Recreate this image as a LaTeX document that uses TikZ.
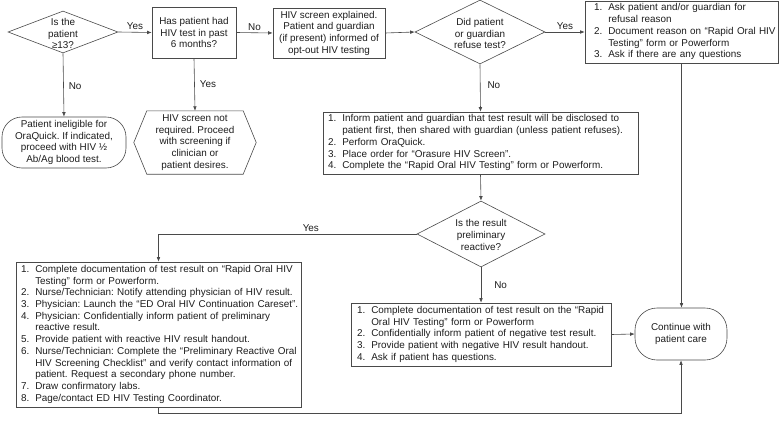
\documentclass[tikz,border=0pt]{standalone}
\usepackage{fontspec}
\setmainfont{Liberation Sans}
\usetikzlibrary{arrows.meta,shapes.geometric,calc}
\definecolor{linec}{HTML}{4A4A4A}
\definecolor{txtc}{HTML}{1E1E1E}
\newcommand\fs{\fontsize{9.9}{11.7}\selectfont\frenchspacing}
\newenvironment{steplist}{\begin{tabular}{@{}l@{\hspace{6pt}}l@{}}}{\end{tabular}}
\begin{document}
\begin{tikzpicture}[x=1pt,y=-1pt,
  every node/.style={text=txtc,font=\fs},
  conn/.style={draw=linec,line width=0.6pt},
  arr/.style={conn,-{Latex[length=4.5pt,width=3.6pt]}},
  boxy/.style={draw=linec,line width=0.6pt,rectangle,inner sep=0pt,align=center},
  listbox/.style={draw=linec,line width=0.6pt,rectangle,inner xsep=5pt,inner ysep=0pt,align=left},
  dia/.style={draw=linec,line width=0.6pt,diamond,inner sep=0pt},
  term/.style={draw=linec,line width=0.6pt,rectangle,rounded corners=20pt,inner sep=0pt,align=center},
  lbl/.style={inner sep=1pt},
  txt/.style={align=center,inner sep=0pt}]
\useasboundingbox (0,0) rectangle (781,423);
\fill[white] (0,0) rectangle (781,423);

% decision 1
\node[dia,minimum width=110pt,minimum height=42pt] (d1) at (63,32) {};
\node[txt] (d1t) at (63,33.5) {Is the\\patient\\≥13?};

% box 2
\node[boxy,minimum width=84pt,minimum height=51pt] (b2) at (194,32.5) {Has patient had\\HIV test in past\\6 months?};

% box 3
\node[boxy,minimum width=112pt,minimum height=50pt] (b3) at (329,33) {HIV screen explained.\\Patient and guardian\\(if present) informed of\\opt-out HIV testing};

% decision 4
\node[dia,minimum width=130pt,minimum height=64pt] (d4) at (480,32) {};
\node[txt] (d4t) at (480,33.5) {Did patient\\or guardian\\refuse test?};

% box 5
\node[listbox,inner xsep=9pt,text width=175pt,minimum height=62pt] (b5) at (681.5,32) {\begin{steplist}
1. & Ask patient and/or guardian for\\
   & refusal reason\\
2. & Document reason on “Rapid Oral HIV\\
   & Testing” form or Powerform\\
3. & Ask if there are any questions
\end{steplist}};

% terminal ineligible
\node[term,minimum width=124pt,minimum height=51pt] (t1) at (64,142.5) {Patient ineligible for\\OraQuick. If indicated,\\proceed with HIV ½\\Ab/Ag blood test.};

% hexagon
\node[rectangle,inner sep=0pt,minimum width=122pt,minimum height=63pt,align=center] (hx) at (195,142.5) {HIV screen not\\required. Proceed\\with screening if\\clinician or\\patient desires.};
\draw[conn] ($(hx.north west)+(13,0)$) -- ($(hx.north east)+(-13,0)$) -- (hx.east) -- ($(hx.south east)+(-13,0)$) -- ($(hx.south west)+(13,0)$) -- (hx.west) -- cycle;

% box 6
\node[listbox,text width=305pt,minimum height=62pt] (b6) at (480.5,143) {\begin{steplist}
1. & Inform patient and guardian that test result will be disclosed to\\
   & patient first, then shared with guardian (unless patient refuses).\\
2. & Perform OraQuick.\\
3. & Place order for “Orasure HIV Screen”.\\
4. & Complete the “Rapid Oral HIV Testing” form or Powerform.
\end{steplist}};

% decision 7
\node[dia,minimum width=128pt,minimum height=66pt] (d7) at (481,234) {};
\node[txt] (d7t) at (481,235) {Is the result\\preliminary\\reactive?};

% box 8
\node[listbox,text width=275pt,minimum height=145pt] (b8) at (158.5,334.5) {\begin{steplist}
1. & Complete documentation of test result on “Rapid Oral HIV\\
   & Testing” form or Powerform.\\
2. & Nurse/Technician: Notify attending physician of HIV result.\\
3. & Physician: Launch the “ED Oral HIV Continuation Careset”.\\
4. & Physician: Confidentially inform patient of preliminary\\
   & reactive result.\\
5. & Provide patient with reactive HIV result handout.\\
6. & Nurse/Technician: Complete the “Preliminary Reactive Oral\\
   & HIV Screening Checklist” and verify contact information of\\
   & patient. Request a secondary phone number.\\
7. & Draw confirmatory labs.\\
8. & Page/contact ED HIV Testing Coordinator.
\end{steplist}};

% box 9
\node[listbox,inner xsep=6pt,text width=248pt,minimum height=63pt] (b9) at (481,334.5) {\begin{steplist}
1. & Complete documentation of test result on the “Rapid\\
   & Oral HIV Testing” form or Powerform\\
2. & Confidentially inform patient of negative test result.\\
3. & Provide patient with negative HIV result handout.\\
4. & Ask if patient has questions.
\end{steplist}};

% continue
\node[term,rounded corners=22pt,minimum width=92pt,minimum height=52pt] (c) at (681,334) {Continue with\\patient care};

% connectors
\draw[arr] (d1.east) -- (b2.west) node[lbl,midway,above=1pt] (l1) {Yes};
\draw[arr] (b2.east) -- (b3.west) node[lbl,midway,above=1pt] (l2) {No};
\draw[arr] (b3.east) -- (d4.west);
\draw[arr] (d4.east) -- (b5.west) node[lbl,midway,above=1pt] (l3) {Yes};
\draw[arr] (d1.south) -- (t1.north) node[lbl,pos=0.52,right=4pt] (l4) {No};
\draw[arr] (b2.south) -- (hx.north) node[lbl,pos=0.5,right=4pt] (l5) {Yes};
\draw[arr] (d4.south) -- (b6.north) node[lbl,pos=0.45,right=6pt] (l6) {No};
\draw[arr] (b6.south) -- (d7.north);
\coordinate (ycorner) at (b8.north |- d7.west);
\draw[arr] (d7.west) -- (ycorner) node[lbl,pos=0.41,above=1pt] (l7) {Yes} -- (b8.north);
\draw[arr] (d7.south) -- (b9.north) node[lbl,midway,right=12pt] (l8) {No};
\draw[arr] (b9.east) -- (c.west);
\draw[arr] (b5.south) -- (b5.south |- c.north);
\coordinate (bl) at ($(b8.south)+(0,6)$);
\coordinate (br) at (c.south |- bl);
\draw[arr] (b8.south) -- (bl) -- (br) -- (c.south);
\end{tikzpicture}
\end{document}
